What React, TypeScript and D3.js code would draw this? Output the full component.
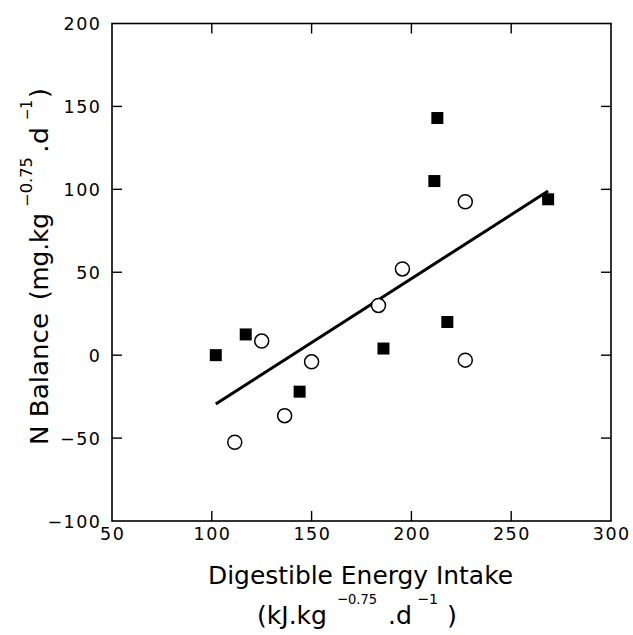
import React from "react";
import * as d3 from "d3";

const filledX = [102, 117, 144, 186, 211.5, 213, 218, 268.5];
const filledY = [0, 12.5, -22, 4, 105, 143, 20, 94];
const openX = [111.5, 125, 136.5, 150, 183.5, 195.5, 227, 227];
const openY = [-52.5, 8.5, -36.5, -4, 30, 52, 92.5, -3];
const fitX = [102, 268.5];
const fitY = [-29.5, 99];
const xTicks = [50, 100, 150, 200, 250, 300];
const yTicks = [-100, -50, 0, 50, 100, 150, 200];

const W = 633;
const H = 635;
const left = 112, right = 611, top = 23.5, bottom = 521;
const FONT = "'DejaVu Sans', sans-serif";

type Seg = { t: string; at: number; len: number; sup?: boolean };
const xUnitSegs: Seg[] = [
  { t: "(kJ.kg", at: 257, len: 70 },
  { t: "\u22120.75", at: 337, len: 40, sup: true },
  { t: ".d", at: 388, len: 24 },
  { t: "\u22121", at: 417, len: 21, sup: true },
  { t: ")", at: 447, len: 10 },
];
const yLabelSegs: Seg[] = [
  { t: "N Balance", at: 2, len: 132 },
  { t: "(mg.kg", at: 147, len: 87 },
  { t: "\u22120.75", at: 240, len: 50, sup: true },
  { t: ".d", at: 294, len: 26 },
  { t: "\u22121", at: 327, len: 20, sup: true },
  { t: ")", at: 349, len: 10 },
];

export default function App() {
  const x = d3.scaleLinear().domain([50, 300]).range([left, right]);
  const y = d3.scaleLinear().domain([-100, 200]).range([bottom, top]);
  const line = d3.line<[number, number]>().x(d => x(d[0])).y(d => y(d[1]));
  const fitPts: [number, number][] = fitX.map((v, i) => [v, fitY[i]]);
  const tl = 10;
  const sq = 12;
  return (
    <svg width={W} height={H} style={{ position: "absolute", left: 0, top: 0, background: "#fff" }}>
      <rect x={0} y={0} width={W} height={H} fill="#fff" />
      <rect x={left} y={top} width={right - left} height={bottom - top} fill="none" stroke="#000" strokeWidth={1.6} />
      {xTicks.map(t => (
        <g key={"xt" + t}>
          {t > 50 && t < 300 && (
            <>
              <line x1={x(t)} x2={x(t)} y1={bottom} y2={bottom - tl} stroke="#000" strokeWidth={1.4} />
              <line x1={x(t)} x2={x(t)} y1={top} y2={top + tl} stroke="#000" strokeWidth={1.4} />
            </>
          )}
          <text x={x(t) + 0.75} y={bottom + 19} textAnchor="middle" fontFamily={FONT} fontSize={17.5} letterSpacing={1.5} fill="#000">{t}</text>
        </g>
      ))}
      {yTicks.map(t => (
        <g key={"yt" + t}>
          {t > -100 && t < 200 && (
            <>
              <line x1={left} x2={left + tl} y1={y(t)} y2={y(t)} stroke="#000" strokeWidth={1.4} />
              <line x1={right} x2={right - tl} y1={y(t)} y2={y(t)} stroke="#000" strokeWidth={1.4} />
            </>
          )}
          <text x={left - 10.5} y={y(t) + 6.5} textAnchor="end" fontFamily={FONT} fontSize={17.5} letterSpacing={1.5} fill="#000">{t < 0 ? "\u2212" + Math.abs(t) : t}</text>
        </g>
      ))}
      <path d={line(fitPts) || ""} fill="none" stroke="#000" strokeWidth={3} />
      {filledX.map((v, i) => (
        <rect key={"f" + i} x={x(v) - sq / 2} y={y(filledY[i]) - sq / 2} width={sq} height={sq} fill="#000" />
      ))}
      {openX.map((v, i) => (
        <circle key={"o" + i} cx={x(v)} cy={y(openY[i])} r={7} fill="#fff" stroke="#000" strokeWidth={1.5} />
      ))}
      <text x={208} y={584} textAnchor="start" fontFamily={FONT} fontSize={24} textLength={305} lengthAdjust="spacingAndGlyphs" fill="#000">Digestible Energy Intake</text>
      {xUnitSegs.map((s, i) => (
        <text key={"xu" + i} x={s.at} y={s.sup ? 604 : 624} fontFamily={FONT} fontSize={s.sup ? 14.5 : 24} textLength={s.len} lengthAdjust="spacingAndGlyphs" fill="#000">{s.t}</text>
      ))}
      <g transform="translate(48,447) rotate(-90)">
        {yLabelSegs.map((s, i) => (
          <text key={"yl" + i} x={s.at} y={s.sup ? -16 : 0} fontFamily={FONT} fontSize={s.sup ? 15 : 24} textLength={s.len} lengthAdjust="spacingAndGlyphs" fill="#000">{s.t}</text>
        ))}
      </g>
    </svg>
  );
}
